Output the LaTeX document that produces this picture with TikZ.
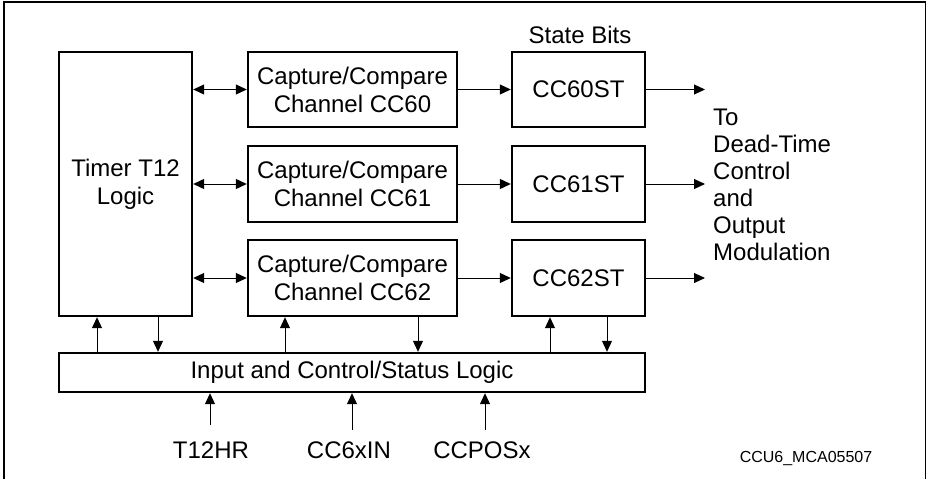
\documentclass[tikz,border=0pt]{standalone}
\usepackage{fontspec}
\setmainfont{Liberation Sans}
\usetikzlibrary{arrows.meta}
\begin{document}
\begin{tikzpicture}[x=1pt,y=-1pt,
  blk/.style={draw,line width=2.4pt,inner sep=0pt,align=center,font=\fontsize{24}{28}\selectfont},
  lbl/.style={inner sep=0pt,font=\fontsize{24}{28}\selectfont},
  arr/.style={line width=1pt,-{Triangle[length=11pt,width=10pt]}},
  barr/.style={line width=1pt,{Triangle[length=11pt,width=10pt]}-{Triangle[length=11pt,width=10pt]}},
  frame/.style={line width=1.5pt}]
\useasboundingbox (0,0) rectangle (927,479);
\draw[frame] (4,482) -- (4,2) -- (925.5,2) -- (925.5,482);

\node[blk,minimum width=133pt,minimum height=264pt] (timer) at (125.5,184) {Timer T12\\Logic};
\node[blk,minimum width=209pt,minimum height=75pt] (cc0) at (352.5,89.5) {Capture/Compare\\Channel CC60};
\node[blk,minimum width=209pt,minimum height=76pt] (cc1) at (352.5,184) {Capture/Compare\\Channel CC61};
\node[blk,minimum width=209pt,minimum height=76pt] (cc2) at (352.5,278) {Capture/Compare\\Channel CC62};
\node[blk,minimum width=133pt,minimum height=75pt] (st0) at (578.5,89.5) {CC60ST};
\node[blk,minimum width=133pt,minimum height=76pt] (st1) at (578.5,184) {CC61ST};
\node[blk,minimum width=133pt,minimum height=76pt] (st2) at (578.5,278) {CC62ST};
\node[blk,minimum width=586pt,minimum height=39pt] (bus) at (352,372.5) {Input and Control/Status Logic};

\node[lbl] (sb) at (580,35) {State Bits};
\node[lbl,anchor=west,align=left,font=\fontsize{24}{27}\selectfont] (out) at (713,185) {To\\Dead-Time\\Control\\and\\Output\\Modulation};

% timer <-> channels
\draw[barr] (timer.east |- cc0.west) -- (cc0.west);
\draw[barr] (timer.east |- cc1.west) -- (cc1.west);
\draw[barr] (timer.east |- cc2.west) -- (cc2.west);
% channels -> state bits
\draw[arr] (cc0.east) -- (st0.west);
\draw[arr] (cc1.east) -- (st1.west);
\draw[arr] (cc2.east) -- (st2.west);
% outputs
\coordinate (o0) at (705,89.5);
\coordinate (o1) at (705,184);
\coordinate (o2) at (705,278);
\draw[arr] (st0.east) -- (o0);
\draw[arr] (st1.east) -- (o1);
\draw[arr] (st2.east) -- (o2);

% bus links
\coordinate (u1) at ([xshift=-28.5pt]timer.south);
\coordinate (d1) at ([xshift=32.5pt]timer.south);
\coordinate (u2) at ([xshift=-67.5pt]cc2.south);
\coordinate (d2) at ([xshift=65.5pt]cc2.south);
\coordinate (u3) at ([xshift=-28.5pt]st2.south);
\coordinate (d3) at ([xshift=28.5pt]st2.south);
\draw[arr] (u1 |- bus.north) -- (u1);
\draw[arr] (d1) -- (d1 |- bus.north);
\draw[arr] (u2 |- bus.north) -- (u2);
\draw[arr] (d2) -- (d2 |- bus.north);
\draw[arr] (u3 |- bus.north) -- (u3);
\draw[arr] (d3) -- (d3 |- bus.north);

% inputs
\node[lbl] (t12hr) at (211,450) {T12HR};
\node[lbl] (cc6xin) at (349,450) {CC6xIN};
\node[lbl] (ccpos) at (482,450) {CCPOSx};
\coordinate (i1) at (210,425);
\coordinate (i2) at (352,430);
\coordinate (i3) at (485,430);
\draw[arr] (i1) -- (i1 |- bus.south);
\draw[arr] (i2) -- (i2 |- bus.south);
\draw[arr] (i3) -- (i3 |- bus.south);

\node[inner sep=0pt,font=\fontsize{16}{19}\selectfont] (id) at (806,458) {CCU6\_MCA05507};
\end{tikzpicture}
\end{document}
